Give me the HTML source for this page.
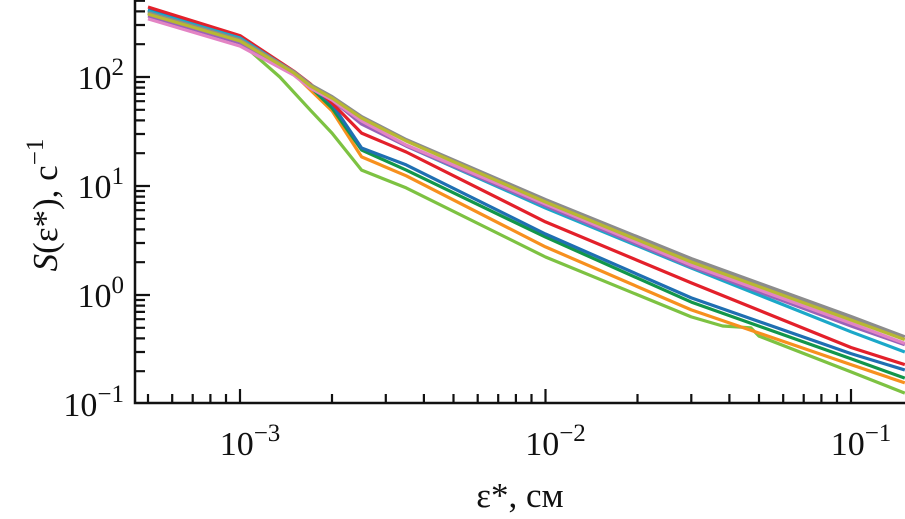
<!DOCTYPE html>
<html><head><meta charset="utf-8"><style>
html,body{margin:0;padding:0;background:#fff;}
svg{display:block;font-family:"Liberation Serif",serif;}
</style></head><body>
<svg id="chart" width="905" height="519" viewBox="0 0 905 519"></svg>
<script>
const eps = [5e-4, 1e-3, 1.5e-3, 1.7e-3, 2e-3, 2.5e-3, 3.5e-3, 1e-2, 3e-2, 0.1, 0.15];
const sGray   = [386, 218, 111, 84.5, 65.5, 43, 26.4, 7.44, 2.14, 0.63, 0.41];
const sOlive  = [378, 214, 109, 82.6, 64, 42, 25.9, 7.13, 2.01, 0.59, 0.39];
const sPink   = [341, 192, 104, 79, 61.5, 39.5, 23.8, 6.84, 1.88, 0.55, 0.36];
const sPurple = [363, 205, 107, 81, 61.5, 37, 23.3, 6.56, 1.81, 0.52, 0.35];
const sCyan   = [403, 228, 111, 82.6, 63, 37.8, 23.3, 6.28, 1.77, 0.46, 0.30];
const sRed    = [439, 240, 113, 86.5, 57.7, 30.6, 20.5, 4.68, 1.29, 0.33, 0.23];
const sBlue   = [412, 228, 112, 82.6, 56.5, 22.3, 15.6, 3.63, 0.94, 0.29, 0.205];
const sDGreen = [412, 228, 111, 81, 52, 21.4, 14.0, 3.40, 0.86, 0.26, 0.173];
const sOrange = [395, 218, 107, 76, 49, 18.5, 12.4, 2.76, 0.73, 0.23, 0.156];
const epsLG   = [5e-4, 1e-3, 1.35e-3, 1.7e-3, 2e-3, 2.5e-3, 3.5e-3, 1e-2, 3e-2, 0.038, 0.047, 0.05, 0.1, 0.15];
const sLGreen = [386, 209, 100, 49.6, 30.6, 14.0, 9.6, 2.23, 0.63, 0.52, 0.50, 0.42, 0.197, 0.126];
const xTickLabels = ["−3", "−2", "−1"];
const yTickLabels = ["−1", "0", "1", "2"];

const NS = "http://www.w3.org/2000/svg";
const svg = document.getElementById("chart");
const X0 = 135, Y0 = 403;
function xScale(v){ return 240 + (Math.log10(v) + 3) * 305.5; }
function yScale(v){ return 295 - Math.log10(v) * 109; }
function mk(tag, attrs, parent){
  const e = document.createElementNS(NS, tag);
  for (const k in attrs) e.setAttribute(k, attrs[k]);
  (parent || svg).appendChild(e);
  return e;
}
const clip = mk("clipPath", {id: "pc"});
mk("rect", {x: X0, y: 0, width: 905 - X0, height: Y0}, clip);

const series = [
  {name: "series-light-green", c: "#7dc242", x: epsLG, y: sLGreen},
  {name: "series-orange", c: "#f7901e", x: eps, y: sOrange},
  {name: "series-dark-green", c: "#12964a", x: eps, y: sDGreen},
  {name: "series-blue", c: "#1f6fb2", x: eps, y: sBlue},
  {name: "series-red", c: "#e3202a", x: eps, y: sRed},
  {name: "series-cyan", c: "#1ba8c9", x: eps, y: sCyan},
  {name: "series-purple", c: "#9a62b8", x: eps, y: sPurple},
  {name: "series-pink", c: "#e384c4", x: eps, y: sPink},
  {name: "series-gray", c: "#8c8c8c", x: eps, y: sGray},
  {name: "series-olive", c: "#b8b832", x: eps, y: sOlive}
];
const g = mk("g", {"clip-path": "url(#pc)"});


series.forEach(s => {
  const d = s.x.map((v, i) => (i ? "L" : "M") + xScale(v).toFixed(1) + "," + yScale(s.y[i]).toFixed(1)).join(" ");
  const p = mk("path", {d: d, fill: "none", stroke: s.c, "stroke-width": s.name === "series-gray" ? 4 : 3.2, "stroke-linejoin": "round"}, g);
  
  
});

const ax = mk("path", {d: "M" + X0 + ",0 V" + Y0 + " H905", fill: "none", stroke: "#111", "stroke-width": 2.5});


let tk = "";
for (let e = -1; e <= 2; e++) {
  for (let m = 1; m <= 9; m++) {
    const y = 295 - (e + Math.log10(m)) * 109;
    if (y < 0 || y > Y0) continue;
    tk += "M" + X0 + "," + y.toFixed(1) + " h" + (m === 1 ? 15 : 10) + " ";
  }
}
for (let e = -4; e <= -1; e++) {
  for (let m = 1; m <= 9; m++) {
    const x = xScale(m * Math.pow(10, e));
    if (x < X0 || x > 905) continue;
    tk += "M" + x.toFixed(1) + "," + Y0 + " v" + (m === 1 ? -14 : -9) + " ";
  }
}
const ticks = mk("path", {d: tk, fill: "none", stroke: "#111", "stroke-width": 2.2});



yTickLabels.forEach((l, i) => {
  const t = mk("text", {x: 124, y: yScale(Math.pow(10, i - 1)) + 12, "text-anchor": "end", "font-size": 34, fill: "#111"});
  
  
  t.appendChild(document.createTextNode("10"));
  const ts = mk("tspan", {dy: -14, "font-size": 25}, t);
  ts.textContent = l;
});
xTickLabels.forEach((l, i) => {
  const t = mk("text", {x: xScale(Math.pow(10, i - 3)) + 10, y: 455, "text-anchor": "middle", "font-size": 34, fill: "#111"});
  
  
  t.appendChild(document.createTextNode("10"));
  const ts = mk("tspan", {dy: -14, "font-size": 25}, t);
  ts.textContent = l;
});
const xt = mk("text", {x: 520, y: 507, "text-anchor": "middle", "font-size": 35, fill: "#111"});


xt.textContent = "ε*, см";
const yt = mk("text", {x: 0, y: 0, "text-anchor": "middle", "font-size": 35, fill: "#111", transform: "translate(57,205) rotate(-90)"});


const si = mk("tspan", {"font-style": "italic"}, yt); si.textContent = "S";
yt.appendChild(document.createTextNode("(ε*), с"));
const sup = mk("tspan", {dy: -14, "font-size": 25}, yt); sup.textContent = "−1";
</script>
</body></html>
